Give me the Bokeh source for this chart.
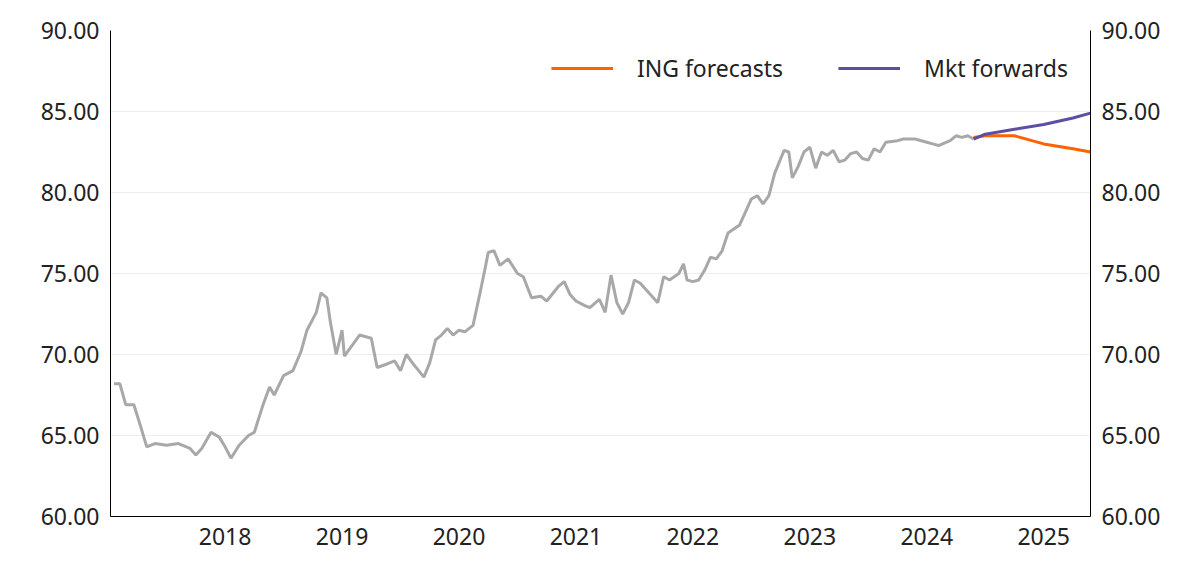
from bokeh.plotting import figure
from bokeh.models import LinearAxis, Range1d, FixedTicker, Legend, LegendItem, CustomJSTickFormatter
from bokeh.embed import file_html
from bokeh.resources import INLINE

hist_x = [2017.05,2017.1,2017.15,2017.22,2017.28,2017.33,2017.4,2017.5,2017.6,2017.7,2017.75,2017.8,2017.88,2017.95,
2018.0,2018.05,2018.12,2018.2,2018.25,2018.32,2018.38,2018.42,2018.5,2018.58,2018.65,2018.7,2018.78,2018.82,2018.87,2018.9,2018.95,
2019.0,2019.02,2019.08,2019.15,2019.25,2019.3,2019.38,2019.45,2019.5,2019.55,2019.6,2019.7,2019.75,2019.8,2019.85,2019.9,2019.95,
2020.0,2020.05,2020.12,2020.18,2020.22,2020.25,2020.3,2020.35,2020.42,2020.5,2020.55,2020.62,2020.7,2020.75,2020.85,2020.9,2020.95,
2021.0,2021.08,2021.12,2021.2,2021.25,2021.3,2021.35,2021.4,2021.45,2021.5,2021.55,2021.65,2021.7,2021.75,2021.8,2021.88,2021.92,2021.95,
2022.0,2022.05,2022.1,2022.15,2022.2,2022.25,2022.3,2022.4,2022.45,2022.5,2022.55,2022.6,2022.65,2022.7,2022.78,2022.82,2022.85,2022.9,2022.95,
2023.0,2023.05,2023.1,2023.15,2023.2,2023.25,2023.3,2023.35,2023.4,2023.45,2023.5,2023.55,2023.6,2023.65,2023.75,2023.8,2023.9,
2024.0,2024.05,2024.1,2024.2,2024.25,2024.3,2024.35,2024.4]
hist_y = [68.2,68.2,66.9,66.9,65.5,64.3,64.5,64.4,64.5,64.2,63.8,64.2,65.2,64.9,
64.3,63.6,64.4,65.0,65.2,66.8,68.0,67.5,68.7,69.0,70.2,71.5,72.6,73.8,73.5,72.0,70.0,
71.5,69.9,70.5,71.2,71.0,69.2,69.4,69.6,69.0,70.0,69.5,68.6,69.5,70.9,71.2,71.6,71.2,
71.5,71.4,71.8,73.8,75.2,76.3,76.4,75.5,75.9,75.0,74.8,73.5,73.6,73.3,74.2,74.5,73.7,
73.3,73.0,72.9,73.4,72.6,74.9,73.2,72.5,73.2,74.6,74.4,73.6,73.2,74.8,74.6,75.0,75.6,74.6,
74.5,74.6,75.2,76.0,75.9,76.4,77.5,78.0,78.8,79.6,79.8,79.3,79.8,81.2,82.6,82.5,80.9,81.6,82.5,
82.8,81.5,82.5,82.3,82.6,81.9,82.0,82.4,82.5,82.1,82.0,82.7,82.5,83.1,83.2,83.3,83.3,
83.1,83.0,82.9,83.2,83.5,83.4,83.5,83.3]
ing_x = [2024.4,2024.5,2024.75,2025.0,2025.25,2025.4]
ing_y = [83.4,83.5,83.5,83.0,82.7,82.5]
fwd_x = [2024.4,2024.5,2024.75,2025.0,2025.25,2025.4]
fwd_y = [83.3,83.6,83.9,84.2,84.6,84.9]
years = [2018,2019,2020,2021,2022,2023,2024,2025]
yticks = [60,65,70,75,80,85,90]

FONT = "Noto Sans"
p = figure(width=1184, height=566, output_backend="svg", toolbar_location=None,
           x_range=Range1d(2017.02, 2025.4), y_range=Range1d(60, 90),
           min_border_left=110, min_border_right=94, min_border_top=30, min_border_bottom=50)
p.outline_line_color = None
p.xgrid.grid_line_color = None
p.ygrid.grid_line_color = "#eeeeee"
p.ygrid.ticker = FixedTicker(ticks=yticks)

fmt = CustomJSTickFormatter(code="return tick.toFixed(2);")
p.yaxis[0].ticker = FixedTicker(ticks=yticks)
p.yaxis[0].formatter = fmt
ra = LinearAxis(ticker=FixedTicker(ticks=yticks), formatter=fmt)
p.add_layout(ra, "right")
for ax in [p.yaxis[0], ra, p.xaxis[0]]:
    ax.major_label_text_font = FONT
    ax.major_label_text_font_size = "23px"
    ax.major_label_text_color = "#222222"
    ax.axis_line_color = "#000000"
    ax.major_tick_line_color = None
    ax.minor_tick_line_color = None
p.xaxis[0].ticker = FixedTicker(ticks=years)
p.xaxis[0].formatter = CustomJSTickFormatter(code="return tick.toFixed(0);")

p.line(hist_x, hist_y, line_color="#a8a8a8", line_width=3)
r1 = p.line(ing_x, ing_y, line_color="#ff6200", line_width=3)
r2 = p.line(fwd_x, fwd_y, line_color="#5a4fa0", line_width=3)

leg = Legend(items=[LegendItem(label="ING forecasts", renderers=[r1]),
                    LegendItem(label="Mkt forwards", renderers=[r2])],
             orientation="horizontal", location="top_right",
             label_text_font=FONT, label_text_font_size="23px", label_text_color="#222222",
             border_line_color=None, background_fill_alpha=0,
             glyph_width=62, spacing=55, margin=22, label_standoff=24)
p.add_layout(leg)

open("out.html", "w").write(file_html(p, INLINE))
